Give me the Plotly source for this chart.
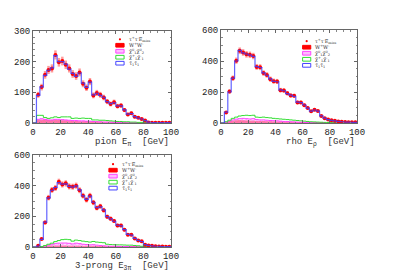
import numpy as np
import plotly.graph_objects as go

bin_edges = [i * 2.5 for i in range(41)]

# ---- pion panel ----
pion_data = [0, 92, 117, 157, 173, 178, 222, 198, 202, 190, 178, 160, 153, 165, 128, 115, 135, 90, 98, 92,
             83, 70, 62, 68, 55, 57, 42, 28, 32, 20, 17, 13, 8, 2, 1, 1, 1, 1, 1, 1]
pion_total = [0, 90, 118, 155, 172, 180, 220, 200, 200, 192, 176, 162, 152, 163, 130, 116, 133, 92, 97, 90,
              84, 70, 63, 66, 56, 56, 43, 29, 31, 21, 16, 13, 8, 3, 1, 1, 1, 1, 1, 1]
pion_green = [0, 25, 25, 18, 15, 17, 20, 18, 20, 20, 20, 15, 16, 15, 16, 15, 15, 10, 10, 9,
              9, 8, 7, 6, 5, 5, 4, 4, 3, 3, 2, 2, 1, 1, 0, 0, 0, 0, 0, 0]
pion_magenta = [0, 12, 14, 12, 10, 10, 12, 12, 11, 10, 9, 8, 8, 7, 7, 6, 6, 5, 4, 4,
                3, 3, 3, 2, 2, 2, 1, 1, 1, 1, 0, 0, 0, 0, 0, 0, 0, 0, 0, 0]
pion_red = [0, 8, 9, 10, 8, 8, 9, 8, 7, 7, 6, 5, 5, 4, 4, 4, 3, 3, 3, 2,
            2, 2, 2, 1, 1, 1, 1, 0, 0, 0, 0, 0, 0, 0, 0, 0, 0, 0, 0, 0]

# ---- rho panel ----
rho_data = [0, 68, 203, 289, 402, 466, 455, 443, 440, 432, 362, 360, 322, 310, 283, 270, 268, 212, 210, 192,
            178, 175, 133, 133, 115, 97, 75, 85, 78, 45, 30, 22, 18, 15, 10, 8, 6, 5, 5, 5]
rho_total = [0, 70, 200, 290, 400, 468, 452, 445, 438, 430, 364, 358, 324, 308, 285, 268, 266, 214, 208, 190,
             180, 172, 135, 131, 116, 96, 76, 84, 76, 46, 31, 22, 17, 14, 10, 8, 6, 5, 4, 4]
rho_green = [0, 8, 18, 30, 38, 45, 48, 50, 48, 50, 38, 36, 38, 35, 33, 30, 28, 26, 24, 22,
             20, 18, 16, 14, 12, 10, 8, 7, 6, 5, 4, 3, 2, 2, 1, 1, 0, 0, 0, 0]
rho_magenta = [0, 5, 12, 20, 25, 28, 30, 28, 26, 28, 22, 20, 20, 18, 16, 15, 14, 12, 10, 9,
               8, 7, 6, 5, 4, 3, 3, 2, 2, 1, 1, 0, 0, 0, 0, 0, 0, 0, 0, 0]
rho_red = [0, 4, 8, 12, 14, 15, 14, 13, 12, 12, 10, 10, 9, 8, 8, 7, 6, 6, 5, 5,
           4, 4, 3, 3, 3, 2, 2, 2, 1, 1, 0, 0, 0, 0, 0, 0, 0, 0, 0, 0]

# ---- 3-prong panel ----
tri_data = [0, 8, 52, 160, 322, 372, 385, 425, 408, 415, 395, 393, 400, 370, 335, 308, 335, 290, 255, 265,
            240, 197, 185, 170, 140, 140, 112, 80, 80, 55, 42, 38, 15, 10, 8, 5, 4, 3, 2, 2]
tri_total = [0, 6, 50, 162, 320, 370, 388, 420, 410, 412, 396, 390, 398, 372, 333, 310, 332, 292, 257, 262,
             242, 198, 183, 168, 142, 138, 113, 82, 78, 56, 43, 36, 16, 10, 7, 5, 4, 3, 2, 2]
tri_green = [0, 0, 3, 10, 18, 25, 35, 42, 48, 50, 48, 38, 45, 42, 38, 35, 32, 36, 32, 30,
             28, 18, 16, 15, 14, 14, 13, 12, 12, 10, 8, 5, 3, 2, 1, 0, 0, 0, 0, 0]
tri_magenta = [0, 0, 2, 6, 12, 18, 22, 25, 26, 26, 24, 20, 25, 22, 18, 16, 14, 15, 12, 10,
               8, 6, 5, 5, 4, 4, 3, 3, 2, 2, 1, 1, 0, 0, 0, 0, 0, 0, 0, 0]
tri_red = [0, 0, 1, 3, 5, 6, 6, 6, 6, 6, 5, 5, 5, 5, 4, 4, 4, 4, 3, 3,
           3, 2, 2, 2, 2, 2, 2, 1, 1, 1, 0, 0, 0, 0, 0, 0, 0, 0, 0, 0]

x_ticks = [0, 20, 40, 60, 80, 100]
legend_labels = ["τ<sup>+</sup>τ<sup>-</sup>E<sub>miss</sub>", "W<sup>+</sup>W<sup>-</sup>",
                 "χ̃<sup>0</sup><sub>1</sub>χ̃<sup>0</sup><sub>2</sub>",
                 "χ̃<sup>+</sup><sub>1</sub>χ̃<sup>-</sup><sub>1</sub>",
                 "τ̃<sub>1</sub>τ̃<sub>1</sub>"]

panels = [
    dict(data=pion_data, total=pion_total, green=pion_green, mag=pion_magenta, red=pion_red,
         xd=[33/401, 171/401], yd=[150/273, 242/273], ymax=300, ydt=100, ymin=20,
         title="pion E<sub>π</sub>  [GeV]", leg=(0.63, 0.91)),
    dict(data=rho_data, total=rho_total, green=rho_green, mag=rho_magenta, red=rho_red,
         xd=[221/401, 357/401], yd=[150/273, 243/273], ymax=600, ydt=200, ymin=50,
         title="rho E<sub>ρ</sub>  [GeV]", leg=(0.63, 0.88)),
    dict(data=tri_data, total=tri_total, green=tri_green, mag=tri_magenta, red=tri_red,
         xd=[33/401, 171/401], yd=[26/273, 118/273], ymax=600, ydt=200, ymin=50,
         title="3-prong E<sub>3π</sub>  [GeV]", leg=(0.58, 0.90)),
]

fig = go.Figure()
font_mono = "Liberation Mono"
edges = np.array(bin_edges)
centers = (edges[:-1] + edges[1:]) / 2

def step(vals):
    return list(edges), list(vals) + [vals[-1]]

shapes = []
annotations = []
for i, p in enumerate(panels):
    n = "" if i == 0 else str(i + 1)
    xa, ya = "x" + n, "y" + n
    xs, ys = step(p["red"])
    fig.add_trace(go.Scatter(x=xs, y=ys, mode="lines", line=dict(shape="hv", color="red", width=1),
                             fill="tozeroy", fillcolor="red", xaxis=xa, yaxis=ya, showlegend=False))
    xs, ys = step(p["mag"])
    fig.add_trace(go.Scatter(x=xs, y=ys, mode="lines", line=dict(shape="hv", color="#ff44ff", width=1),
                             fill="tozeroy", fillcolor="rgba(255,120,255,0.35)",
                             fillpattern=dict(shape="x", fgcolor="#ff55ff", bgcolor="rgba(255,200,255,0.6)",
                                              size=3, solidity=0.4),
                             xaxis=xa, yaxis=ya, showlegend=False))
    xs, ys = step(p["green"])
    fig.add_trace(go.Scatter(x=xs, y=ys, mode="lines", line=dict(shape="hv", color="#33dd33", width=1),
                             xaxis=xa, yaxis=ya, showlegend=False))
    d = np.array(p["data"], dtype=float)
    mask = d > 0
    fig.add_trace(go.Scatter(x=centers[mask], y=d[mask], mode="markers",
                             marker=dict(color="red", size=4),
                             error_y=dict(type="data", array=np.sqrt(d[mask]), color="rgba(255,90,90,0.6)",
                                          width=0, thickness=2.5),
                             xaxis=xa, yaxis=ya, showlegend=False))
    xs, ys = step(p["total"])
    fig.add_trace(go.Scatter(x=xs, y=ys, mode="lines", line=dict(shape="hv", color="rgba(60,60,255,0.8)", width=1.2),
                             xaxis=xa, yaxis=ya, showlegend=False))

    axis_common = dict(showline=True, mirror="ticks", linecolor="#666", linewidth=1, ticks="inside",
                       ticklen=3, tickcolor="#666", showgrid=False, zeroline=False, automargin=False,
                       tickfont=dict(family=font_mono, size=9, color="#222"))
    fig.update_layout(**{
        ("xaxis" + n): dict(domain=p["xd"], range=[0, 100], tickvals=x_ticks, anchor=ya,
                            minor=dict(dtick=5, ticks="inside", ticklen=1.5, tickcolor="#888"), **axis_common),
        ("yaxis" + n): dict(domain=p["yd"], range=[0, p["ymax"]], dtick=p["ydt"], anchor=xa,
                            minor=dict(dtick=p["ymin"], ticks="inside", ticklen=1.5, tickcolor="#888"), **axis_common),
    })
    annotations.append(dict(text=p["title"], xref=xa + " domain", yref=ya + " domain", x=1.0, y=-0.13,
                            xanchor="right", yanchor="top", showarrow=False,
                            font=dict(family=font_mono, size=9, color="#333")))
    lx, ly = p["leg"]
    dy = 0.065
    xr, yr = xa + " domain", ya + " domain"
    for k, lab in enumerate(legend_labels):
        yy = ly - k * dy
        if k == 0:
            shapes.append(dict(type="circle", xref=xr, yref=yr, x0=lx - 0.008, x1=lx + 0.008,
                               y0=yy - 0.012, y1=yy + 0.012, fillcolor="red", line=dict(width=0)))
        else:
            style = [None,
                     dict(fillcolor="red", line=dict(color="red", width=1)),
                     dict(fillcolor="rgba(255,120,255,0.5)", line=dict(color="#ff44ff", width=1)),
                     dict(fillcolor="rgba(0,0,0,0)", line=dict(color="#33dd33", width=1)),
                     dict(fillcolor="rgba(0,0,0,0)", line=dict(color="#4444ff", width=1))][k]
            shapes.append(dict(type="rect", xref=xr, yref=yr, x0=lx - 0.03, x1=lx + 0.03,
                               y0=yy - 0.02, y1=yy + 0.02, **style))
        annotations.append(dict(text=lab, xref=xr, yref=yr, x=lx + 0.05, y=yy, xanchor="left",
                                yanchor="middle", showarrow=False,
                                font=dict(family="DejaVu Serif", size=5, color="#333")))

fig.update_layout(width=401, height=273, margin=dict(l=0, r=0, t=0, b=0, autoexpand=False),
                  paper_bgcolor="white", plot_bgcolor="white",
                  shapes=shapes, annotations=annotations, showlegend=False)
fig.write_html("out.html", config={"displayModeBar": False},
               post_script="document.body.style.margin='0';document.body.style.overflow='hidden';")
